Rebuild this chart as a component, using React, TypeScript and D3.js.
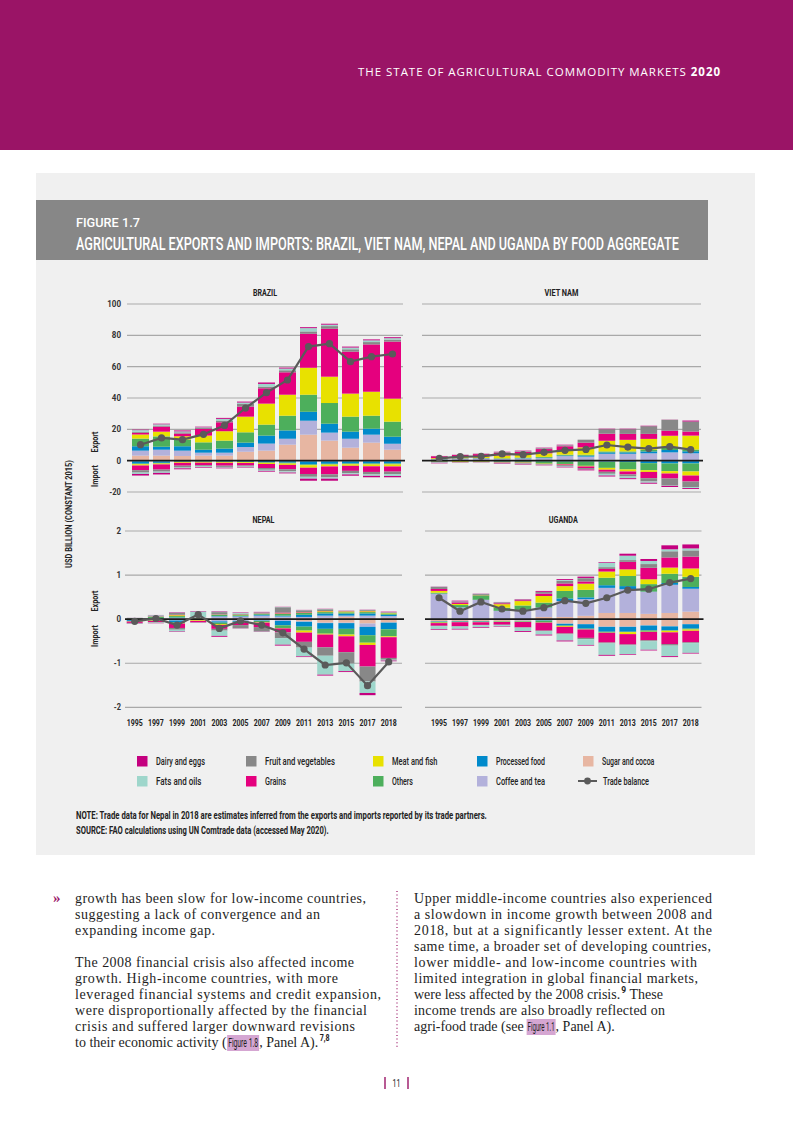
import * as React from 'react';
import * as d3 from 'd3';

// ---- data (USD billion, constant 2015) ----
const years = ['1995', '1997', '1999', '2001', '2003', '2005', '2007', '2009', '2011', '2013', '2015', '2017', '2018'];

// stacking order, from the zero line outwards
const categories = [
  'Sugar and cocoa',
  'Coffee and tea',
  'Processed food',
  'Others',
  'Meat and fish',
  'Grains',
  'Fruit and vegetables',
  'Fats and oils',
  'Dairy and eggs',
];
const categoryColors = ['#E7B6A2', '#B3B1DB', '#008ACB', '#4DAF5C', '#E8E100', '#E5007E', '#888888', '#9ED6CB', '#C4007F'];

// legend reads column by column
const legendOrder = [
  'Dairy and eggs',
  'Fats and oils',
  'Fruit and vegetables',
  'Grains',
  'Meat and fish',
  'Others',
  'Processed food',
  'Coffee and tea',
  'Sugar and cocoa',
];

const bigTicks = [100, 80, 60, 40, 20, 0, -20];
const smallTicks = [2, 1, 0, -1, -2];

// rows follow `categories`, columns follow `years`
const brazilExports = [
  [3.2, 3.2, 3.0, 3.2, 3.2, 5.7, 6.4, 10.2, 16.6, 12.8, 8.3, 11.5, 7.0],
  [3.2, 3.8, 3.4, 1.9, 1.9, 3.0, 4.5, 3.8, 8.9, 5.1, 5.7, 5.1, 3.8],
  [2.8, 1.9, 2.8, 1.9, 2.6, 2.8, 5.1, 5.3, 5.7, 5.7, 4.5, 3.8, 4.5],
  [4.9, 6.6, 4.3, 4.7, 5.1, 6.6, 7.0, 9.4, 10.9, 13.2, 9.6, 8.3, 9.6],
  [2.6, 3.0, 2.1, 4.3, 6.0, 10.0, 13.4, 13.4, 17.2, 16.8, 14.7, 15.3, 14.7],
  [1.1, 3.2, 1.7, 4.3, 5.7, 6.4, 9.8, 14.3, 21.7, 30.6, 26.8, 30.2, 36.4],
  [0.6, 0.7, 0.8, 0.6, 1.1, 1.7, 1.1, 1.3, 1.5, 1.7, 1.5, 1.5, 1.3],
  [1.1, 0.8, 0.6, 0.4, 1.1, 0.9, 1.7, 1.1, 2.1, 0.9, 1.1, 1.1, 0.9],
  [0.3, 0.4, 0.6, 0.4, 0.6, 0.6, 0.9, 0.6, 0.6, 0.6, 0.6, 0.6, 0.6],
];
const brazilImports = [
  [0.2, 0.2, 0.1, 0.1, 0.1, 0.1, 0.1, 0.1, 0.2, 0.2, 0.2, 0.2, 0.2],
  [0.2, 0.2, 0.1, 0.1, 0.1, 0.1, 0.1, 0.2, 0.2, 0.2, 0.2, 0.2, 0.2],
  [1.5, 1.0, 0.4, 0.3, 0.4, 0.5, 0.8, 1.0, 2.0, 1.6, 1.4, 1.4, 1.4],
  [0.4, 0.4, 0.3, 0.3, 0.3, 0.3, 0.4, 0.5, 0.5, 0.5, 0.5, 0.6, 0.6],
  [0.8, 0.6, 0.5, 0.5, 0.5, 0.5, 0.7, 0.9, 1.6, 1.2, 1.0, 1.2, 1.3],
  [3.0, 3.3, 1.8, 1.6, 1.8, 1.6, 2.6, 2.8, 4.0, 5.0, 3.2, 3.6, 3.3],
  [1.5, 1.3, 1.2, 0.8, 0.8, 0.7, 1.1, 1.3, 1.8, 2.0, 1.5, 1.6, 1.6],
  [0.9, 0.8, 0.5, 0.4, 0.5, 0.4, 0.7, 0.8, 1.2, 0.8, 0.8, 0.9, 1.2],
  [1.0, 1.0, 0.6, 0.4, 0.4, 0.3, 0.5, 0.5, 1.3, 1.3, 0.8, 0.9, 0.8],
];
const brazilBalance = [10.2, 14.5, 13.4, 16.8, 22.5, 33.6, 43.4, 51.5, 72.8, 74.7, 63.2, 66.4, 68.1];

const vietnamExports = [
  [0.1, 0.1, 0.1, 0.1, 0.1, 0.1, 0.2, 0.1, 0.6, 0.6, 0.2, 0.1, 0.1],
  [0.7, 1.2, 1.3, 0.9, 1.3, 1.5, 2.7, 2.5, 3.8, 3.8, 4.5, 5.2, 4.6],
  [0.1, 0.1, 0.1, 0.2, 0.2, 0.3, 0.4, 0.6, 0.9, 0.9, 1.2, 1.5, 1.3],
  [0.2, 0.2, 0.2, 0.3, 0.4, 0.5, 0.5, 0.6, 0.6, 0.6, 1.0, 1.7, 1.1],
  [0.5, 0.8, 1.0, 1.8, 1.8, 2.3, 2.8, 4.7, 6.8, 7.4, 7.0, 7.4, 8.9],
  [1.2, 1.2, 1.5, 1.8, 1.8, 2.7, 2.6, 3.0, 4.5, 3.8, 3.2, 3.2, 2.6],
  [0.1, 0.1, 0.2, 0.4, 0.4, 0.5, 0.6, 1.9, 2.9, 3.0, 4.9, 7.0, 6.4],
  [0, 0, 0, 0, 0.1, 0.1, 0.1, 0, 0, 0, 0, 0, 0],
  [0.1, 0.1, 0.1, 0.2, 0.3, 0.3, 0.3, 0, 0.3, 0.3, 0.3, 0.1, 0.6],
];
const vietnamImports = [
  [0.1, 0.1, 0.1, 0.2, 0.2, 0.2, 0.2, 0.2, 0.3, 0.1, 0.1, 0.1, 0.1],
  [0, 0, 0, 0, 0, 0, 0.1, 0.1, 0.2, 0.2, 0.2, 0.2, 0.2],
  [0.1, 0.1, 0.1, 0.2, 0.2, 0.3, 0.3, 0.2, 0.3, 0.6, 1.3, 1.5, 1.5],
  [0.5, 0.2, 0.3, 0.5, 0.8, 1.4, 1.5, 2.8, 3.8, 4.7, 4.5, 4.9, 5.1],
  [0.1, 0.5, 0.3, 0.2, 0.2, 0.2, 0.3, 0.4, 1.2, 1.3, 1.1, 1.5, 2.6],
  [0.1, 0.1, 0.1, 0.2, 0.3, 0.3, 0.5, 1.0, 1.3, 1.9, 4.0, 3.2, 3.8],
  [0.2, 0.1, 0.1, 0.2, 0.3, 0.2, 0.5, 0.6, 1.3, 1.3, 2.1, 4.5, 3.6],
  [0.3, 0.1, 0.1, 0.2, 0.3, 0.2, 0.5, 0.3, 1.1, 1.1, 0.8, 0.2, 0.6],
  [0.3, 0.1, 0.1, 0.3, 0.3, 0.2, 0.4, 0.6, 0.6, 0.6, 0.6, 0.7, 0.6],
];
const vietnamBalance = [1.5, 2.6, 2.8, 4.3, 3.8, 5.3, 6.6, 7.2, 10.0, 8.7, 7.7, 8.9, 7.0];

const nepalExports = [
  [0.002, 0.005, 0.01, 0.005, 0.02, 0.02, 0.03, 0.03, 0.02, 0.03, 0.05, 0.03, 0.03],
  [0.002, 0.005, 0.02, 0.005, 0.04, 0.04, 0.05, 0.03, 0.03, 0.05, 0.03, 0.05, 0.04],
  [0.005, 0.01, 0.01, 0.005, 0.01, 0.01, 0.02, 0.02, 0.05, 0.05, 0.045, 0.05, 0.03],
  [0.01, 0.03, 0.03, 0.005, 0.03, 0.02, 0.02, 0.04, 0.04, 0.03, 0.03, 0.03, 0.03],
  [0.002, 0.005, 0.02, 0.005, 0.005, 0.01, 0.005, 0.01, 0.01, 0.02, 0.02, 0.02, 0.01],
  [0.002, 0.005, 0.01, 0.005, 0.005, 0.005, 0.005, 0.02, 0.01, 0.005, 0.005, 0.005, 0.005],
  [0.002, 0.01, 0.04, 0.005, 0.05, 0.02, 0.02, 0.12, 0.04, 0.04, 0.005, 0.02, 0.01],
  [0.005, 0.02, 0.01, 0.14, 0.01, 0.02, 0.005, 0.005, 0.005, 0.005, 0.005, 0.005, 0.005],
  [0.002, 0.005, 0.01, 0.01, 0.01, 0.01, 0.01, 0.005, 0.005, 0.005, 0.005, 0.005, 0.01],
];
const nepalImports = [
  [0.005, 0.005, 0.01, 0.005, 0.01, 0.01, 0.01, 0.01, 0.05, 0.08, 0.08, 0.1, 0.075],
  [0.005, 0.005, 0.02, 0.005, 0.04, 0.03, 0.02, 0.03, 0.01, 0.01, 0.01, 0.075, 0.005],
  [0.03, 0.01, 0.04, 0.005, 0.03, 0.02, 0.01, 0.1, 0.11, 0.13, 0.13, 0.19, 0.15],
  [0.01, 0.01, 0.02, 0.01, 0.03, 0.01, 0.03, 0.06, 0.09, 0.11, 0.13, 0.17, 0.16],
  [0.005, 0.01, 0.01, 0.015, 0.02, 0.005, 0.01, 0.01, 0.045, 0.02, 0.04, 0.05, 0.02],
  [0.03, 0.03, 0.1, 0.03, 0.09, 0.06, 0.1, 0.09, 0.21, 0.29, 0.36, 0.49, 0.47],
  [0.01, 0.01, 0.04, 0.005, 0.04, 0.07, 0.1, 0.13, 0.13, 0.19, 0.26, 0.34, 0.04],
  [0.01, 0.01, 0.04, 0.005, 0.12, 0.005, 0.005, 0.15, 0.2, 0.43, 0.17, 0.26, 0.02],
  [0.005, 0.005, 0.01, 0.005, 0.02, 0.005, 0.005, 0.02, 0.015, 0.02, 0.02, 0.05, 0.015],
];
const nepalBalance = [-0.05, 0.015, -0.135, 0.105, -0.21, -0.04, -0.135, -0.31, -0.68, -1.04, -0.99, -1.51, -0.97];

const ugandaExports = [
  [0.005, 0.005, 0.005, 0.005, 0.005, 0.05, 0.05, 0.075, 0.14, 0.14, 0.12, 0.14, 0.17],
  [0.57, 0.26, 0.43, 0.18, 0.2, 0.21, 0.36, 0.38, 0.57, 0.54, 0.5, 0.64, 0.52],
  [0.005, 0.005, 0.005, 0.005, 0.005, 0.005, 0.06, 0.04, 0.06, 0.07, 0.005, 0.04, 0.04],
  [0.02, 0.05, 0.1, 0.07, 0.1, 0.11, 0.17, 0.17, 0.17, 0.23, 0.17, 0.21, 0.23],
  [0.04, 0.025, 0.005, 0.08, 0.1, 0.15, 0.11, 0.14, 0.14, 0.15, 0.11, 0.14, 0.19],
  [0.045, 0.035, 0.005, 0.02, 0.02, 0.055, 0.06, 0.05, 0.06, 0.17, 0.26, 0.23, 0.27],
  [0.045, 0.02, 0.02, 0.02, 0.01, 0.035, 0.06, 0.075, 0.04, 0.04, 0.085, 0.14, 0.14],
  [0.005, 0.005, 0.005, 0.005, 0.005, 0.005, 0.02, 0.005, 0.1, 0.1, 0.07, 0.045, 0.045],
  [0.005, 0.015, 0.005, 0.005, 0.01, 0.02, 0.02, 0.03, 0.015, 0.045, 0.045, 0.09, 0.09],
];
const ugandaImports = [
  [0.045, 0.04, 0.04, 0.04, 0.035, 0.02, 0.1, 0.11, 0.17, 0.17, 0.14, 0.16, 0.11],
  [0.005, 0.005, 0.005, 0.005, 0.005, 0.005, 0.005, 0.005, 0.005, 0.005, 0.005, 0.005, 0.005],
  [0.01, 0.01, 0.01, 0.005, 0.01, 0.01, 0.04, 0.1, 0.11, 0.11, 0.11, 0.09, 0.1],
  [0.02, 0.01, 0.01, 0.01, 0.01, 0.04, 0.01, 0.015, 0.02, 0.01, 0.03, 0.01, 0.02],
  [0.01, 0.005, 0.005, 0.005, 0.005, 0.005, 0.02, 0.005, 0.005, 0.045, 0.005, 0.035, 0.03],
  [0.06, 0.09, 0.06, 0.06, 0.12, 0.18, 0.15, 0.19, 0.22, 0.235, 0.19, 0.265, 0.26],
  [0.01, 0.01, 0.01, 0.01, 0.01, 0.01, 0.02, 0.03, 0.02, 0.02, 0.02, 0.035, 0.02],
  [0.07, 0.05, 0.045, 0.03, 0.075, 0.08, 0.14, 0.13, 0.26, 0.2, 0.195, 0.24, 0.22],
  [0.015, 0.015, 0.015, 0.01, 0.02, 0.02, 0.02, 0.015, 0.02, 0.015, 0.015, 0.02, 0.015],
];
const ugandaBalance = [0.485, 0.18, 0.39, 0.23, 0.18, 0.26, 0.42, 0.36, 0.485, 0.66, 0.68, 0.83, 0.92];

// ---- styling ----
const SANS = "'Roboto', 'Liberation Sans', sans-serif";
const SERIF = "'Liberation Serif', 'DejaVu Serif', serif";
const MAGENTA = '#9A1466';
const BALANCE = '#5A5A5A';
const HIGHLIGHT = '#D5A6D2';

// no condensed face is installed, so squeeze a normal one to the width it has in the print
function FitText(props: {
  x: number;
  y: number;
  width: number;
  size: number;
  bold?: boolean;
  weight?: number;
  anchor?: 'start' | 'middle' | 'end';
  fill?: string;
  rotate?: number;
  dy?: string;
  children: string;
}) {
  const ref = React.useRef<SVGTextElement>(null);
  const [scale, setScale] = React.useState(1);
  React.useLayoutEffect(() => {
    const w = ref.current ? ref.current.getComputedTextLength() : 0;
    if (w > 0) setScale(props.width / w);
  }, [props.width, props.size, props.children]);
  const rot = props.rotate ? ` rotate(${props.rotate})` : '';
  return (
    <g transform={`translate(${props.x},${props.y})${rot} scale(${scale},1)`}>
      <text
        ref={ref}
        dy={props.dy}
        textAnchor={props.anchor || 'start'}
        fontFamily={SANS}
        fontSize={props.size}
        fontWeight={props.bold ? 'bold' : props.weight || 'normal'}
        fill={props.fill || '#222'}
      >
        {props.children}
      </text>
    </g>
  );
}

function stackRows(rows: number[][]) {
  const table = years.map((year, i) => {
    const row: Record<string, any> = { year };
    categories.forEach((c, k) => {
      row[c] = rows[k][i];
    });
    return row;
  });
  return d3.stack<Record<string, any>>().keys(categories)(table);
}

interface PanelProps {
  title: string;
  titleWidth: number;
  exportRows: number[][];
  importRows: number[][];
  balance: number[];
  domain: [number, number];
  yRange: [number, number];
  xRange: [number, number];
  gridX: [number, number];
  barWidth: number;
  ticks: number[];
  tickLabels: boolean;
  yearLabels: boolean;
}

function Panel(p: PanelProps) {
  const x = d3.scalePoint<string>().domain(years).range(p.xRange);
  const y = d3.scaleLinear().domain(p.domain).range(p.yRange);
  const exp = stackRows(p.exportRows);
  const imp = stackRows(p.importRows);
  const line = d3
    .line<number>()
    .x((_, i) => x(years[i]) as number)
    .y(v => y(v));
  const bw = p.barWidth;
  const cx = (p.gridX[0] + p.gridX[1]) / 2;

  return (
    <g>
      <FitText x={cx} y={p.yRange[1] - 8} width={p.titleWidth} size={8.5} bold anchor="middle">
        {p.title}
      </FitText>
      {p.ticks
        .filter(t => t !== 0)
        .map(t => (
          <line key={`g${t}`} x1={p.gridX[0]} x2={p.gridX[1]} y1={y(t)} y2={y(t)} stroke="#A9A9A9" strokeWidth={1.2} />
        ))}
      {p.tickLabels &&
        p.ticks.map(t => {
          const s = String(t);
          const w = s.replace('-', '').length * 4.6 + (t < 0 ? 2.6 : 0);
          return (
            <FitText key={`t${t}`} x={121} y={y(t)} dy="0.35em" width={w} size={9} bold anchor="end" fill="#333">
              {s}
            </FitText>
          );
        })}
      {exp.map((s, k) =>
        s.map((d, i) => (
          <rect
            key={`e${k}-${i}`}
            x={(x(years[i]) as number) - bw / 2}
            y={y(d[1])}
            width={bw}
            height={Math.max(0, y(d[0]) - y(d[1]))}
            fill={categoryColors[k]}
          />
        )),
      )}
      {imp.map((s, k) =>
        s.map((d, i) => (
          <rect
            key={`i${k}-${i}`}
            x={(x(years[i]) as number) - bw / 2}
            y={y(-d[0])}
            width={bw}
            height={Math.max(0, y(-d[1]) - y(-d[0]))}
            fill={categoryColors[k]}
          />
        )),
      )}
      <line x1={p.gridX[0]} x2={p.gridX[1] + 2} y1={y(0)} y2={y(0)} stroke="#1A1A1A" strokeWidth={1.6} />
      <path d={line(p.balance) || ''} fill="none" stroke={BALANCE} strokeWidth={2.2} />
      {p.balance.map((v, i) => (
        <circle key={`b${i}`} cx={x(years[i])} cy={y(v)} r={3.6} fill={BALANCE} />
      ))}
      {p.yearLabels &&
        years.map(yr => (
          <FitText key={`y${yr}`} x={x(yr) as number} y={726} width={16} size={8.5} bold anchor="middle">
            {yr}
          </FitText>
        ))}
    </g>
  );
}

const legendCols = [137, 246, 373, 477, 583];
const legendRowsY = [761, 781];

function Legend() {
  const items = legendOrder.map((name, i) => ({
    name,
    color: categoryColors[categories.indexOf(name)],
    x: legendCols[Math.floor(i / 2)],
    y: legendRowsY[i % 2],
  }));
  return (
    <g>
      {items.map(it => (
        <g key={it.name}>
          <rect x={it.x} y={it.y - 5} width={10.5} height={10.5} fill={it.color} />
          <FitText x={it.x + 19} y={it.y + 4} width={it.name.length * 3.5} size={10.5} weight={500}>
            {it.name}
          </FitText>
        </g>
      ))}
      <line x1={578} x2={597} y1={781} y2={781} stroke={BALANCE} strokeWidth={2} />
      <circle cx={587.5} cy={781} r={3.4} fill={BALANCE} />
      <FitText x={603} y={785} width={46} size={10.5} weight={500}>
        Trade balance
      </FitText>
    </g>
  );
}

function BodyLine(props: { x: number; y: number; len: number; children: React.ReactNode }) {
  return (
    <text x={props.x} y={props.y} textLength={props.len} lengthAdjust="spacing" fontFamily={SERIF} fontSize={14} fill="#1E1E1E">
      {props.children}
    </text>
  );
}

interface Piece {
  t: string;
  sans?: boolean;
  size?: number;
  bold?: boolean;
  dy?: number;
  width?: number;
  gap?: number;
  hl?: boolean;
}

// a line made of runs in different faces, laid out one after another
function InlineRun({ x, y, pieces }: { x: number; y: number; pieces: Piece[] }) {
  const refs = React.useRef<(SVGTextElement | null)[]>([]);
  const [nat, setNat] = React.useState<number[] | null>(null);
  React.useLayoutEffect(() => {
    setNat(pieces.map((_, i) => (refs.current[i] ? (refs.current[i] as SVGTextElement).getComputedTextLength() : 0)));
  }, []);
  let cursor = x;
  return (
    <g>
      {pieces.map((p, i) => {
        const natural = nat ? nat[i] : 0;
        const w = p.width !== undefined ? p.width : natural;
        const s = p.width !== undefined && natural > 0 ? p.width / natural : 1;
        const px = cursor;
        cursor += w + (p.gap || 0);
        return (
          <g key={i}>
            {p.hl && <rect x={px - 1} y={y - 12} width={w + 2} height={16} fill={HIGHLIGHT} />}
            <g transform={`translate(${px},${y + (p.dy || 0)}) scale(${s},1)`}>
              <text
                ref={el => {
                  refs.current[i] = el;
                }}
                fontFamily={p.sans ? SANS : SERIF}
                fontSize={p.size || 14}
                fontWeight={p.bold ? 'bold' : 'normal'}
                fill="#1E1E1E"
              >
                {p.t}
              </text>
            </g>
          </g>
        );
      })}
    </g>
  );
}

function Body() {
  const left: [string, number][] = [
    ['growth has been slow for low-income countries,', 291],
    ['suggesting a lack of convergence and an', 245],
    ['expanding income gap.', 140],
  ];
  const left2: [string, number][] = [
    ['The 2008 financial crisis also affected income', 279],
    ['growth. High-income countries, with more', 263],
    ['leveraged financial systems and credit expansion,', 306],
    ['were disproportionally affected by the financial', 292],
    ['crisis and suffered larger downward revisions', 280],
  ];
  const right: [string, number][] = [
    ['Upper middle-income countries also experienced', 298],
    ['a slowdown in income growth between 2008 and', 298],
    ['2018, but at a significantly lesser extent. At the', 298],
    ['same time, a broader set of developing countries,', 297],
    ['lower middle- and low-income countries with', 283],
    ['limited integration in global financial markets,', 284],
  ];
  return (
    <g>
      <text x={53} y={903} fontFamily={SERIF} fontWeight="bold" fontSize={15} fill={MAGENTA}>
        »
      </text>
      {left.map(([t, l], i) => (
        <BodyLine key={t} x={75} y={903 + i * 16} len={l}>
          {t}
        </BodyLine>
      ))}
      {left2.map(([t, l], i) => (
        <BodyLine key={t} x={75} y={967 + i * 16} len={l}>
          {t}
        </BodyLine>
      ))}
      <InlineRun
        x={75}
        y={1047}
        pieces={[
          { t: 'to their economic activity (', gap: 1.5 },
          { t: 'Figure 1.8', sans: true, size: 13.5, width: 30, hl: true, gap: 1 },
          { t: ', Panel A).', gap: 1.5 },
          { t: '7,8', sans: true, bold: true, size: 8.5, dy: -6, width: 10 },
        ]}
      />

      {right.map(([t, l], i) => (
        <BodyLine key={t} x={414} y={903 + i * 16} len={l}>
          {t}
        </BodyLine>
      ))}
      <InlineRun
        x={414}
        y={999}
        pieces={[
          { t: 'were less affected by the 2008 crisis.', gap: 1 },
          { t: '9', sans: true, bold: true, size: 8.5, dy: -6, gap: 3.5 },
          { t: 'These' },
        ]}
      />
      <BodyLine x={414} y={1015} len={251}>
        income trends are also broadly reflected on
      </BodyLine>
      <InlineRun
        x={414}
        y={1031}
        pieces={[
          { t: 'agri-food trade (see', gap: 4 },
          { t: 'Figure 1.1', sans: true, size: 13.5, width: 27, hl: true, gap: 1 },
          { t: ', Panel A).' },
        ]}
      />

      <line x1={397} x2={397} y1={891} y2={1048} stroke={MAGENTA} strokeWidth={1.2} strokeDasharray="1 2.6" />

      <line x1={385} x2={385} y1={1077} y2={1089} stroke={MAGENTA} strokeWidth={1.4} />
      <line x1={408} x2={408} y1={1077} y2={1089} stroke={MAGENTA} strokeWidth={1.4} />
      <FitText x={396.5} y={1087} width={8} size={10} anchor="middle">
        11
      </FitText>
    </g>
  );
}

export default function App() {
  const bigDomain: [number, number] = [-20, 100];
  const bigRange: [number, number] = [492, 304];
  const smallDomain: [number, number] = [-2, 2];
  const smallRange: [number, number] = [707.3, 531];

  return (
    <svg width={793} height={1122} viewBox="0 0 793 1122" style={{ position: 'absolute', left: 0, top: 0, background: '#fff' }}>
      {/* page header */}
      <rect x={0} y={0} width={793} height={150} fill={MAGENTA} />
      <text x={358} y={76} textLength={362} lengthAdjust="spacing" fontFamily="'Open Sans', sans-serif" fontSize={11.5} fill="#fff">
        THE STATE OF AGRICULTURAL COMMODITY MARKETS <tspan fontWeight="bold">2020</tspan>
      </text>

      {/* figure box */}
      <rect x={36} y={173} width={719} height={682} fill="#F0F0F0" />
      <rect x={36} y={200} width={672} height={60} fill="#878787" />
      <FitText x={76} y={227} width={64} size={13} weight={500} fill="#fff">
        FIGURE 1.7
      </FitText>
      <FitText x={76} y={250} width={603} size={17.5} weight={500} fill="#fff">
        AGRICULTURAL EXPORTS AND IMPORTS: BRAZIL, VIET NAM, NEPAL AND UGANDA BY FOOD AGGREGATE
      </FitText>

      {/* axis titles */}
      <FitText x={72} y={514} rotate={-90} width={108} size={9.5} bold anchor="middle">
        USD BILLION (CONSTANT 2015)
      </FitText>
      <FitText x={98} y={442} rotate={-90} width={21} size={9.5} bold anchor="middle">
        Export
      </FitText>
      <FitText x={98} y={476} rotate={-90} width={22} size={9.5} bold anchor="middle">
        Import
      </FitText>
      <FitText x={98} y={601} rotate={-90} width={21} size={9.5} bold anchor="middle">
        Export
      </FitText>
      <FitText x={98} y={636} rotate={-90} width={22} size={9.5} bold anchor="middle">
        Import
      </FitText>

      <Panel
        title="BRAZIL"
        titleWidth={24}
        exportRows={brazilExports}
        importRows={brazilImports}
        balance={brazilBalance}
        domain={bigDomain}
        yRange={bigRange}
        xRange={[140.5, 392.5]}
        gridX={[127, 403]}
        barWidth={17}
        ticks={bigTicks}
        tickLabels
        yearLabels={false}
      />
      <Panel
        title="VIET NAM"
        titleWidth={34}
        exportRows={vietnamExports}
        importRows={vietnamImports}
        balance={vietnamBalance}
        domain={bigDomain}
        yRange={bigRange}
        xRange={[439.3, 690.7]}
        gridX={[422, 701]}
        barWidth={16.7}
        ticks={bigTicks}
        tickLabels={false}
        yearLabels={false}
      />
      <Panel
        title="NEPAL"
        titleWidth={22}
        exportRows={nepalExports}
        importRows={nepalImports}
        balance={nepalBalance}
        domain={smallDomain}
        yRange={smallRange}
        xRange={[134.7, 388.7]}
        gridX={[125, 402]}
        barWidth={16}
        ticks={smallTicks}
        tickLabels
        yearLabels
      />
      <Panel
        title="UGANDA"
        titleWidth={29}
        exportRows={ugandaExports}
        importRows={ugandaImports}
        balance={ugandaBalance}
        domain={smallDomain}
        yRange={smallRange}
        xRange={[439, 690.7]}
        gridX={[425, 701.5]}
        barWidth={16.7}
        ticks={smallTicks}
        tickLabels={false}
        yearLabels
      />

      <Legend />

      <FitText x={76} y={819} width={411} size={10} bold>
        NOTE: Trade data for Nepal in 2018 are estimates inferred from the exports and imports reported by its trade partners.
      </FitText>
      <FitText x={76} y={834} width={253} size={10} bold>
        SOURCE: FAO calculations using UN Comtrade data (accessed May 2020).
      </FitText>

      <Body />
    </svg>
  );
}
